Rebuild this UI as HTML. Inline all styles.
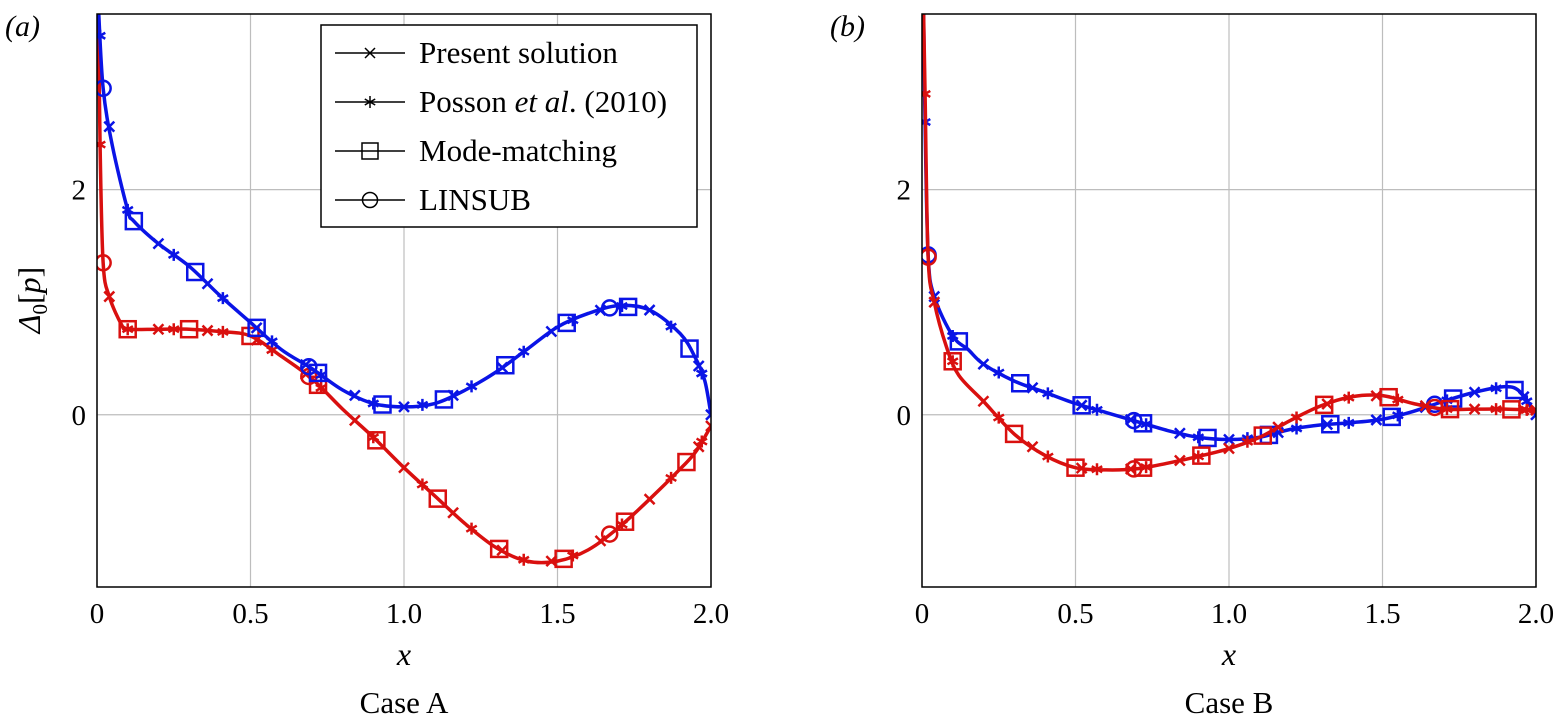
<!DOCTYPE html>
<html><head><meta charset="utf-8"><style>
body{margin:0;background:#fff}
svg{display:block;font-family:"Liberation Serif",serif}
</style></head><body>
<svg id="chart" width="1558" height="724" xmlns="http://www.w3.org/2000/svg"></svg>
<script>
// Panel A data
const aBlueX=[0.005,0.02,0.05,0.1,0.12,0.2,0.3,0.4,0.5,0.6,0.7,0.8,0.9,1.0,1.1,1.2,1.3,1.4,1.5,1.6,1.7,1.8,1.9,1.95,1.98,2.0];
const aBlueY=[3.6,2.9,2.39,1.82,1.72,1.52,1.32,1.06,0.82,0.58,0.41,0.22,0.1,0.07,0.1,0.22,0.38,0.58,0.78,0.9,0.97,0.93,0.72,0.5,0.3,0];
const aRedX=[0.005,0.01,0.02,0.04,0.08,0.1,0.2,0.3,0.4,0.5,0.6,0.7,0.8,0.9,1.0,1.1,1.2,1.3,1.4,1.5,1.6,1.7,1.8,1.9,1.95,2.0];
const aRedY=[3.6,2.4,1.35,1.05,0.8,0.76,0.76,0.76,0.74,0.7,0.52,0.32,0.05,-0.2,-0.47,-0.72,-0.97,-1.18,-1.3,-1.3,-1.2,-1.0,-0.75,-0.48,-0.33,-0.1];
// Panel B data
const bBlueX=[0.005,0.01,0.02,0.04,0.1,0.15,0.2,0.3,0.4,0.5,0.6,0.7,0.8,0.9,1.0,1.1,1.2,1.3,1.4,1.5,1.6,1.7,1.8,1.9,1.95,2.0];
const bBlueY=[3.6,2.6,1.42,1.05,0.7,0.58,0.45,0.3,0.2,0.1,0.02,-0.06,-0.14,-0.2,-0.22,-0.2,-0.13,-0.09,-0.07,-0.04,0.03,0.12,0.2,0.25,0.2,0];
const bRedX=[0.005,0.01,0.02,0.04,0.08,0.12,0.2,0.3,0.4,0.5,0.6,0.7,0.8,0.9,1.0,1.1,1.2,1.3,1.4,1.5,1.6,1.7,1.8,1.9,2.0];
const bRedY=[3.6,2.85,1.4,1.0,0.6,0.35,0.12,-0.17,-0.36,-0.47,-0.49,-0.48,-0.43,-0.37,-0.3,-0.2,-0.05,0.08,0.16,0.17,0.1,0.05,0.05,0.05,0.04];
// Marker positions (x values along curve)
const crossX=[0.04,0.2,0.36,0.52,0.68,0.84,1.0,1.16,1.32,1.48,1.64,1.8,1.96,2.0];
const starX=[0.01,0.1,0.25,0.41,0.57,0.73,0.9,1.06,1.22,1.39,1.55,1.71,1.87,1.97];
const squareBlueX=[0.12,0.32,0.52,0.72,0.93,1.13,1.33,1.53,1.73,1.93];
const squareRedX=[0.1,0.3,0.5,0.72,0.91,1.11,1.31,1.52,1.72,1.92];
const circleX=[0.02,0.69,1.67];
const xTicks=[0,0.5,1.0,1.5,2.0];
const xTickLabels=["0","0.5","1.0","1.5","2.0"];
const yTicks=[0,2];
const yMin=-1.53,yMax=3.56;

const NS="http://www.w3.org/2000/svg";
const svg=document.getElementById('chart');
function mk(t,a,p){const e=document.createElementNS(NS,t);for(const k in a)e.setAttribute(k,a[k]);(p||svg).appendChild(e);return e;}
const plotTop=14,plotBot=587;
function yS(v){return plotBot-(v-yMin)/(yMax-yMin)*(plotBot-plotTop);}
function interp(xs,ys,x){for(let i=1;i<xs.length;i++){if(x<=xs[i]){const t=(x-xs[i-1])/(xs[i]-xs[i-1]);return ys[i-1]+t*(ys[i]-ys[i-1]);}}return ys[ys.length-1];}
function smooth(pts){let d=`M${pts[0][0]},${pts[0][1]}`;for(let i=0;i<pts.length-1;i++){const p0=pts[Math.max(0,i-1)],p1=pts[i],p2=pts[i+1],p3=pts[Math.min(pts.length-1,i+2)];
const c1=[p1[0]+(p2[0]-p0[0])/6,p1[1]+(p2[1]-p0[1])/6],c2=[p2[0]-(p3[0]-p1[0])/6,p2[1]-(p3[1]-p1[1])/6];
d+=` C${c1[0]},${c1[1]} ${c2[0]},${c2[1]} ${p2[0]},${p2[1]}`;}return d;}
function marker(type,cx,cy,col,g,sw){
 sw=sw||2.5;
 if(type==='cross'){const s=5;const m=mk('path',{d:`M${cx-s},${cy-s}L${cx+s},${cy+s}M${cx-s},${cy+s}L${cx+s},${cy-s}`,stroke:col,'stroke-width':sw,fill:'none'},g);
  
  }
 else if(type==='star'){const s=6;const m=mk('path',{d:`M${cx},${cy-s}L${cx},${cy+s}M${cx-s*0.87},${cy-s/2}L${cx+s*0.87},${cy+s/2}M${cx-s*0.87},${cy+s/2}L${cx+s*0.87},${cy-s/2}`,stroke:col,'stroke-width':sw,fill:'none'},g);
  
  }
 else if(type==='square'){const s=8;const m=mk('rect',{x:cx-s,y:cy-s,width:2*s,height:2*s,stroke:col,'stroke-width':sw,fill:'none'},g);
  
  }
 else {const m=mk('circle',{cx:cx,cy:cy,r:7.5,stroke:col,'stroke-width':sw,fill:'none'},g);
  
  }
}
function panel(x0,x1,label,caseLbl,series,showYLabel,name){
 const g=mk('g',{});
 
 
 const xS=v=>x0+v/2*(x1-x0);
 xTicks.forEach((t,i)=>{const l=mk('line',{x1:xS(t),x2:xS(t),y1:plotTop,y2:plotBot,stroke:'#bdbdbd','stroke-width':1.2},g);
  
  
  const tx=mk('text',{x:xS(t),y:623,'font-size':29,'text-anchor':'middle'},g);tx.textContent=xTickLabels[i];
  
  });
 yTicks.forEach(t=>{const l=mk('line',{x1:x0,x2:x1,y1:yS(t),y2:yS(t),stroke:'#bdbdbd','stroke-width':1.2},g);
  
  
  const tx=mk('text',{x:x0-11,y:yS(t)+10,'font-size':29,'text-anchor':'end'},g);tx.textContent=String(t);
  
  });
 const clip='clip'+name;const cp=mk('clipPath',{id:clip},g);mk('rect',{x:x0,y:plotTop,width:x1-x0,height:plotBot-plotTop},cp);
 const sg=mk('g',{'clip-path':`url(#${clip})`},g);
 series.forEach(s=>{
  const pts=s.x.map((v,i)=>[xS(v),yS(s.y[i])]);
  const p=mk('path',{d:smooth(pts),stroke:s.col,'stroke-width':3.5,fill:'none','stroke-linejoin':'round'},sg);
  
  
  crossX.forEach(x=>marker('cross',xS(x),yS(interp(s.x,s.y,x)),s.col,sg));
  starX.forEach(x=>marker('star',xS(x),yS(interp(s.x,s.y,x)),s.col,sg));
  s.sq.forEach(x=>marker('square',xS(x),yS(interp(s.x,s.y,x)),s.col,sg));
  circleX.forEach(x=>marker('circle',xS(x),yS(interp(s.x,s.y,x)),s.col,sg));
 });
 const fr=mk('rect',{x:x0,y:plotTop,width:x1-x0,height:plotBot-plotTop,fill:'none',stroke:'#000','stroke-width':1.5},g);
 
 
 const pl=mk('text',{x:x0-92,y:36,'font-size':30,'font-style':'italic'},g);pl.textContent=label;
 
 
 const xl=mk('text',{x:(x0+x1)/2,y:665,'font-size':32,'font-style':'italic','text-anchor':'middle'},g);xl.textContent='x';
 
 
 const cl=mk('text',{x:(x0+x1)/2,y:713,'font-size':31,'text-anchor':'middle'},g);cl.textContent=caseLbl;
 
 
 if(showYLabel){const yl=mk('text',{transform:'translate(40,300) rotate(-90)','font-size':32,'text-anchor':'middle'},g);
  yl.innerHTML='<tspan font-style="italic">Δ</tspan><tspan font-size="21" dy="7">0</tspan><tspan dy="-7">[</tspan><tspan font-style="italic">p</tspan><tspan>]</tspan>';
  
  }
}
const blue='#0a14e6',red='#d9100f';
panel(97,711,'(a)','Case A',[{x:aRedX,y:aRedY,col:red,sq:squareRedX,name:'red-curve-a'},{x:aBlueX,y:aBlueY,col:blue,sq:squareBlueX,name:'blue-curve-a'}],true,'panel-a');
panel(922,1536,'(b)','Case B',[{x:bBlueX,y:bBlueY,col:blue,sq:squareBlueX,name:'blue-curve-b'},{x:bRedX,y:bRedY,col:red,sq:squareRedX,name:'red-curve-b'}],false,'panel-b');
// legend
const lg=mk('g',{});


mk('rect',{x:321,y:25,width:376,height:202,fill:'#fff',stroke:'#000','stroke-width':1.5},lg);
const entries=[['cross','Present solution'],['star','Posson <tspan font-style="italic">et al</tspan>. (2010)'],['square','Mode-matching'],['circle','LINSUB']];
entries.forEach((e,i)=>{const y=53+i*49;
 const eg=mk('g',{},lg);
 
 
 mk('line',{x1:335,x2:405,y1:y,y2:y,stroke:'#000','stroke-width':1.5},eg);
 marker(e[0],370,y,'#000',eg,1.5);
 const t=mk('text',{x:419,y:y+10,'font-size':31},eg);t.innerHTML=e[1];});
</script>
</body></html>
